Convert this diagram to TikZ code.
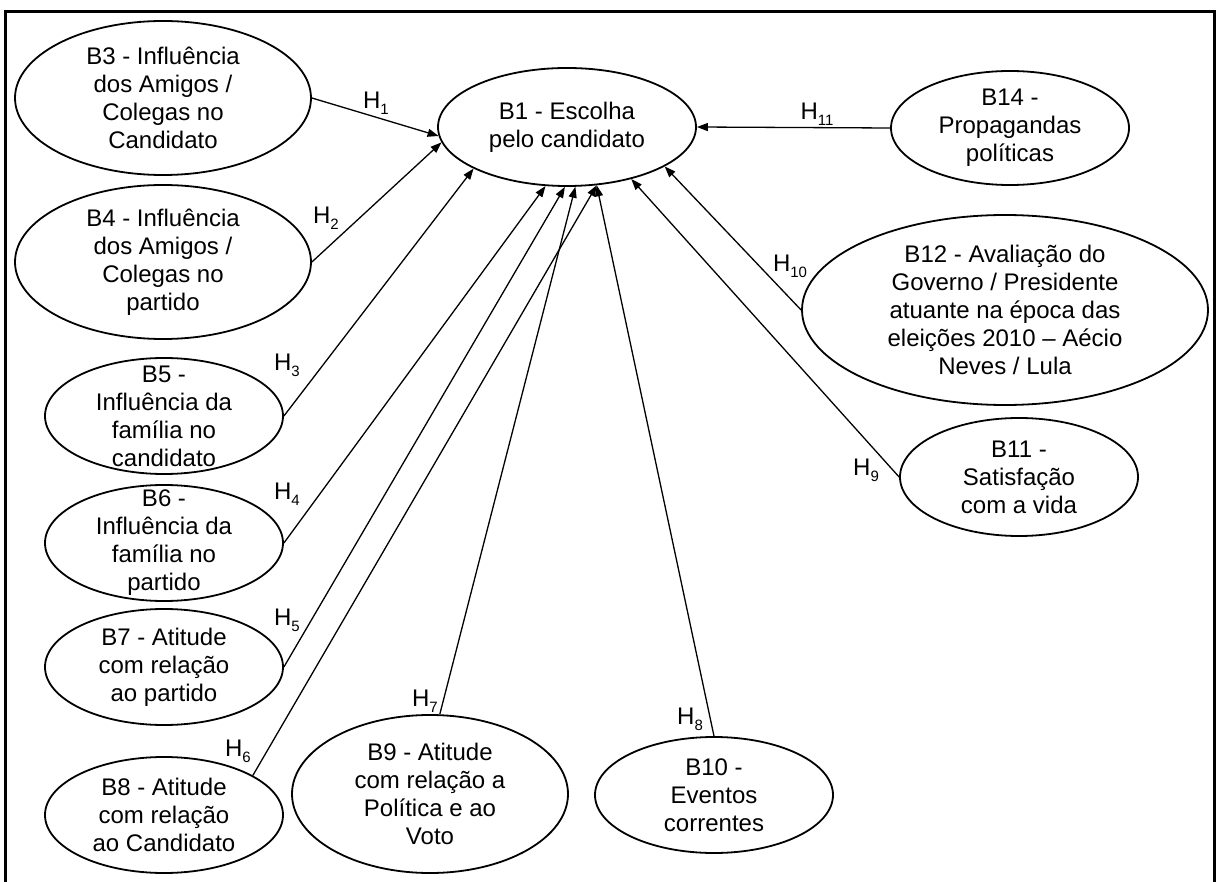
\documentclass[tikz,border=0pt]{standalone}
\usepackage{fontspec}
\setmainfont{Liberation Sans}
\usetikzlibrary{shapes.geometric,arrows.meta}
% hypothesis label: H with a lowered index
\newcommand\hlab[1]{H\raisebox{-6pt}{\fontsize{15}{15}\selectfont #1}}
\begin{document}
\begin{tikzpicture}[x=1pt,y=-1pt,
  oval/.style 2 args={draw, ellipse, line width=1.8pt, inner sep=0pt,
                      minimum width=#1, minimum height=#2},
  txt/.style={align=center, inner sep=0pt, font=\fontsize{24}{28}\selectfont},
  hyp/.style={inner sep=0pt, font=\fontsize{24}{28}\selectfont},
  link/.style={line width=1.3pt, -{Triangle[length=11pt,width=8pt]}}]
\useasboundingbox (0,0) rectangle (1216,882);

% open frame (no bottom edge)
\draw[line width=3pt] (5,882) -- (5,12) -- (1214.5,12) -- (1214.5,882);

% constructs
\node[oval={258}{118}] (b1) at (567,127) {};
\node[txt] (b1t) at (b1.center) {B1 - Escolha\\pelo candidato};

\node[oval={296}{154}] (b3) at (163,98) {};
\node[txt] (b3t) at (b3.center) {B3 - Influência\\dos Amigos /\\Colegas no\\Candidato};

\node[oval={296}{154}] (b4) at (163,262) {};
\node[txt] (b4t) at (b4.center) {B4 - Influência\\dos Amigos /\\Colegas no\\partido};

\node[oval={238}{116}] (b5) at (164,416) {};
\node[txt] (b5t) at (b5.center) {B5 -\\Influência da\\família no\\candidato};

\node[oval={238}{116}] (b6) at (164,543) {};
\node[txt] (b6t) at (b6.center) {B6 -\\Influência da\\família no\\partido};

\node[oval={238}{116}] (b7) at (164,667) {};
\node[txt] (b7t) at (b7.center) {B7 - Atitude\\com relação\\ao partido};

\node[oval={238}{116}] (b8) at (164,815) {};
\node[txt] (b8t) at (b8.center) {B8 - Atitude\\com relação\\ao Candidato};

\node[oval={276}{158}] (b9) at (430,794) {};
\node[txt] (b9t) at (b9.center) {B9 - Atitude\\com relação a\\Política e ao\\Voto};

\node[oval={238}{116}] (b10) at (714,795) {};
\node[txt] (b10t) at (b10.center) {B10 -\\Eventos\\correntes};

\node[oval={238}{118}] (b11) at (1019,477) {};
\node[txt] (b11t) at (b11.center) {B11 -\\Satisfação\\com a vida};

\node[oval={406}{190}] (b12) at (1005,310) {};
\node[txt] (b12t) at (b12.center) {B12 - Avaliação do\\Governo / Presidente\\atuante na época das\\eleições 2010 – Aécio\\Neves / Lula};

\node[oval={238}{114}] (b14) at (1010,128) {};
\node[txt] (b14t) at (b14.center) {B14 -\\Propagandas\\políticas};

% hypotheses
\draw[link] (b3.east)  -- (b1.184);
\draw[link] (b4.east)  -- (b1.187);
\draw[link] (b5.east)  -- (b1.204);
\draw[link] (b6.east)  -- (b1.250);
\draw[link] (b7.east)  -- (b1.268);
\draw[link] (b8.24)    -- (b1.297);
\draw[link] (b9.83)    -- (b1.278);
\draw[link] (b10.north) -- (b1.297);
\draw[link] (b11.west) -- (b1.321);
\draw[link] (b12.west) -- (b1.338);
\draw[link] (b14.west) -- (b1.east);

\node[hyp] (h1)  at (376,103) {\hlab{1}};
\node[hyp] (h2)  at (326,218) {\hlab{2}};
\node[hyp] (h3)  at (287,365) {\hlab{3}};
\node[hyp] (h4)  at (287,494) {\hlab{4}};
\node[hyp] (h5)  at (287,620) {\hlab{5}};
\node[hyp] (h6)  at (238,751) {\hlab{6}};
\node[hyp] (h7)  at (425,701) {\hlab{7}};
\node[hyp] (h8)  at (690,719) {\hlab{8}};
\node[hyp] (h9)  at (866,470) {\hlab{9}};
\node[hyp] (h10) at (790,266) {\hlab{10}};
\node[hyp] (h11) at (817,114) {\hlab{11}};
\end{tikzpicture}
\end{document}
